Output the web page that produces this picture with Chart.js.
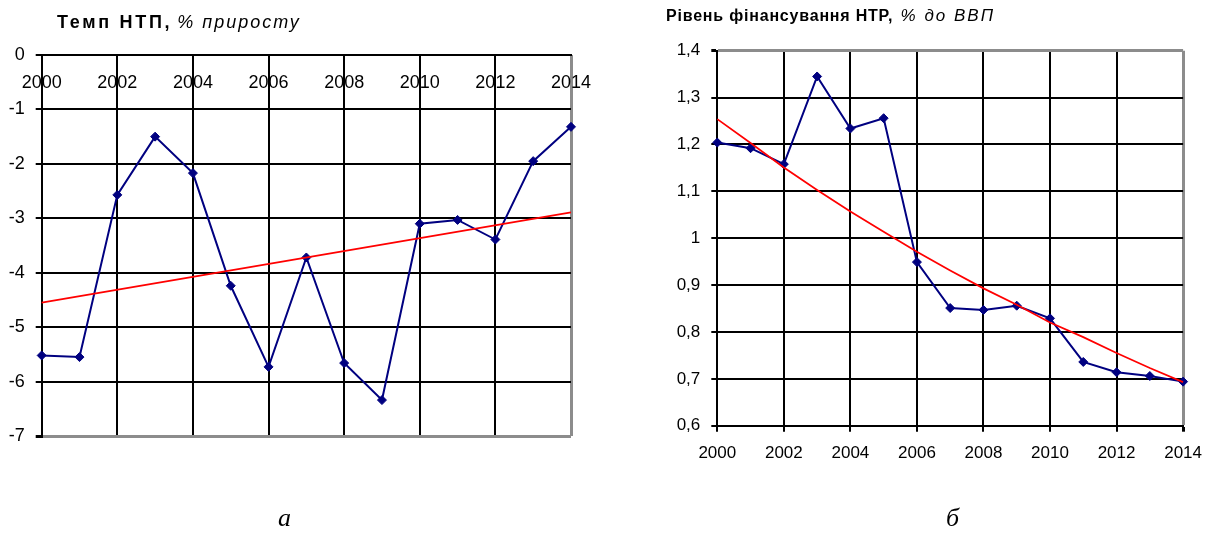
<!DOCTYPE html>
<html>
<head>
<meta charset="utf-8">
<script src="https://cdn.jsdelivr.net/npm/chart.js@4/dist/chart.umd.min.js"></script>
<style>
  html, body { margin: 0; padding: 0; background: #fff; }
  body { width: 1213px; height: 535px; position: relative; overflow: hidden; }
  canvas { position: absolute; left: 0; top: 0; }
  .title { position: absolute; font-family: "Liberation Sans", Arial, sans-serif; color: #000; white-space: nowrap; }
  .title b { font-weight: bold; }
  .title i { font-style: italic; font-weight: normal; }
  .cap { position: absolute; font-family: "Liberation Serif", "Times New Roman", serif; font-style: italic; font-size: 26px; line-height: 30px; color: #000; }
</style>
</head>
<body>
<canvas id="chartA" width="1213" height="535"></canvas>
<canvas id="chartB" width="1213" height="535"></canvas>
<div class="title" style="left:57px;top:12px;font-size:18px;line-height:20px;"><b style="letter-spacing:2.7px">Темп НТП,</b> <i style="letter-spacing:2px">% приросту</i></div>
<div class="title" style="left:666px;top:7px;font-size:16px;line-height:18px;"><b style="letter-spacing:0.8px">Рівень фінансування НТР,</b> <i style="font-size:17px;letter-spacing:2px;margin-left:3px">% до ВВП</i></div>
<div class="cap" style="left:278px;top:503px;">а</div>
<div class="cap" style="left:946px;top:503px;">б</div>
<script>
// years on the horizontal axis
const years = [2000, 2001, 2002, 2003, 2004, 2005, 2006, 2007, 2008, 2009, 2010, 2011, 2012, 2013, 2014];
const yearTicks = [2000, 2002, 2004, 2006, 2008, 2010, 2012, 2014];

// Темп НТП, % приросту
const growthRate = [-5.52, -5.55, -2.57, -1.50, -2.17, -4.24, -5.73, -3.72, -5.66, -6.34, -3.10, -3.03, -3.39, -1.95, -1.32];
const growthTrendYears = [2000, 2014];
const growthTrend = [-4.55, -2.89];

// Рівень фінансування НТР, % до ВВП
const fundingLevel = [1.204, 1.192, 1.158, 1.345, 1.234, 1.256, 0.949, 0.851, 0.847, 0.856, 0.829, 0.736, 0.714, 0.706, 0.694];
const fundingTrend = [1.254, 1.203, 1.151, 1.103, 1.057, 1.014, 0.971, 0.931, 0.893, 0.858, 0.820, 0.789, 0.755, 0.723, 0.693];

const FONT = '"Liberation Sans", Arial, sans-serif';
const NAVY = '#000080';
const GRID = '#000000';
const FRAME = '#8c8c8c';

const pts = (xs, ys) => xs.map((x, i) => ({ x, y: ys[i] }));
const near = (a, b) => Math.abs(a - b) < 1e-6;

function seriesDataset(xs, ys) {
  return {
    data: pts(xs, ys),
    borderColor: NAVY,
    borderWidth: 2,
    pointStyle: 'rectRot',
    pointRadius: 4.5,
    pointBackgroundColor: NAVY,
    pointBorderColor: NAVY,
    pointBorderWidth: 1,
    clip: false,
    order: 2
  };
}
function trendDataset(xs, ys) {
  return {
    data: pts(xs, ys),
    borderColor: '#ff0000',
    borderWidth: 1.75,
    pointRadius: 0,
    clip: false,
    order: 1
  };
}
const fixedTicks = list => scale => { scale.ticks = list.map(v => ({ value: v })); };

// Chart (а): growth rate with linear trend, year labels hanging under the zero line
new Chart(document.getElementById('chartA'), {
  type: 'line',
  data: { datasets: [seriesDataset(years, growthRate), trendDataset(growthTrendYears, growthTrend)] },
  options: {
    responsive: false,
    animation: false,
    events: [],
    layout: { padding: { left: 0, top: 55, right: 642, bottom: 99 } },
    plugins: { legend: { display: false }, tooltip: { enabled: false } },
    scales: {
      x: {
        type: 'linear', min: 2000, max: 2014,
        position: { y: 0 },
        afterFit: s => { s.height = 0; },
        afterBuildTicks: fixedTicks(yearTicks),
        ticks: { padding: 17, color: '#000', font: { family: FONT, size: 18 }, maxRotation: 0, autoSkip: false, callback: v => String(v) },
        grid: {
          drawTicks: false,
          color: c => near(c.tick.value, 2014) ? FRAME : GRID,
          lineWidth: c => near(c.tick.value, 2014) ? 3 : 2
        },
        border: { color: '#000', width: 2 }
      },
      y: {
        type: 'linear', min: -7, max: 0,
        afterFit: s => { s.width = 41.7; },
        ticks: { stepSize: 1, padding: 11, color: '#000', font: { family: FONT, size: 18 }, callback: v => String(v) },
        grid: {
          tickLength: 6, tickColor: '#000',
          color: c => near(c.tick.value, -7) ? FRAME : GRID,
          lineWidth: c => near(c.tick.value, -7) ? 3 : 2
        },
        border: { color: '#000', width: 2 }
      }
    }
  }
});

// Chart (б): funding level with its trend curve
new Chart(document.getElementById('chartB'), {
  type: 'line',
  data: { datasets: [seriesDataset(years, fundingLevel), trendDataset(years, fundingTrend)] },
  options: {
    responsive: false,
    animation: false,
    events: [],
    layout: { padding: { left: 657.3, top: 50.7, right: 21.3, bottom: 69.3 } },
    plugins: { legend: { display: false }, tooltip: { enabled: false } },
    scales: {
      x: {
        type: 'linear', min: 2000, max: 2014,
        position: 'bottom',
        afterFit: s => { s.height = 40; },
        afterBuildTicks: fixedTicks(yearTicks),
        ticks: { padding: 11, color: '#000', font: { family: FONT, size: 17 }, maxRotation: 0, autoSkip: false, callback: v => String(v) },
        grid: {
          tickLength: 6, tickColor: '#000',
          color: c => near(c.tick.value, 2014) ? FRAME : GRID,
          lineWidth: c => near(c.tick.value, 2014) ? 3 : 2
        },
        border: { color: '#000', width: 2 }
      },
      y: {
        type: 'linear', min: 0.6, max: 1.4,
        afterFit: s => { s.width = 60; },
        ticks: { stepSize: 0.1, padding: 11, color: '#000', font: { family: FONT, size: 17 },
                 callback: v => String(Math.round(v * 10) / 10).replace('.', ',') },
        grid: {
          tickLength: 6, tickColor: '#000',
          color: c => near(c.tick.value, 1.4) ? FRAME : GRID,
          lineWidth: c => near(c.tick.value, 1.4) ? 3 : 2
        },
        border: { color: '#000', width: 2 }
      }
    }
  }
});
</script>
</body>
</html>
